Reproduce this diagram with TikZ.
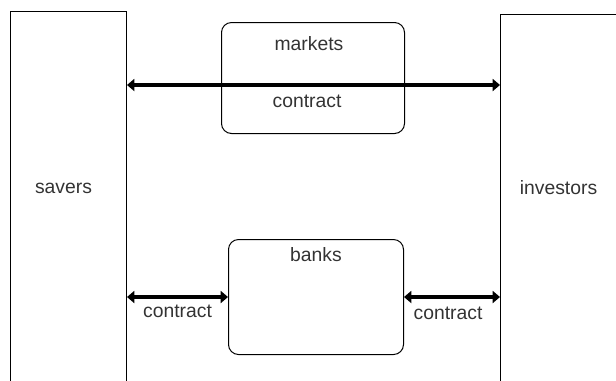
\documentclass[tikz,border=0pt]{standalone}
\usepackage{fontspec}
\setmainfont{Liberation Sans}
\usetikzlibrary{arrows.meta}
\begin{document}
\begin{tikzpicture}[x=0.75pt,y=-0.75pt,
  side/.style={draw,line width=0.75pt,minimum width=116*0.75pt,minimum height=400*0.75pt,inner sep=0pt},
  rbox/.style={draw,line width=0.75pt,rounded corners=7.5pt,inner sep=0pt},
  txt/.style={font=\fontsize{14.5pt}{16pt}\selectfont,text=black!80,inner sep=0pt},
  arr/.style={line width=3pt,{Triangle[length=5.5pt,width=9pt]}-{Triangle[length=5.5pt,width=9pt]}}]
\useasboundingbox (0,0) rectangle (616,380);
\clip (0,0) rectangle (616,380);
\node[side,anchor=north west] (savers) at (10,11) {};
\node[side,anchor=north west] (investors) at (500,14) {};
\node[rbox,minimum width=183*0.75pt,minimum height=111*0.75pt,anchor=north west] (markets) at (221,22) {};
\node[rbox,minimum width=175*0.75pt,minimum height=115*0.75pt,anchor=north west] (banks) at (228,239) {};
\node[txt] (saverslbl) at (63.5,188) {savers};
\node[txt] (investorslbl) at (558.5,188) {investors};
\node[txt] (marketslbl) at (309,44) {markets};
\node[txt] (bankslbl) at (316,255) {banks};
\coordinate (ytop) at (0,85);
\draw[arr] (savers.east |- ytop) -- (investors.west |- ytop);
\draw[arr] (savers.east |- banks.west) -- (banks.west);
\draw[arr] (banks.east) -- (investors.west |- banks.east);
\node[txt] (c1) at (307,101) {contract};
\node[txt] (c2) at (177.5,311) {contract};
\node[txt] (c3) at (448,313) {contract};
\end{tikzpicture}
\end{document}
